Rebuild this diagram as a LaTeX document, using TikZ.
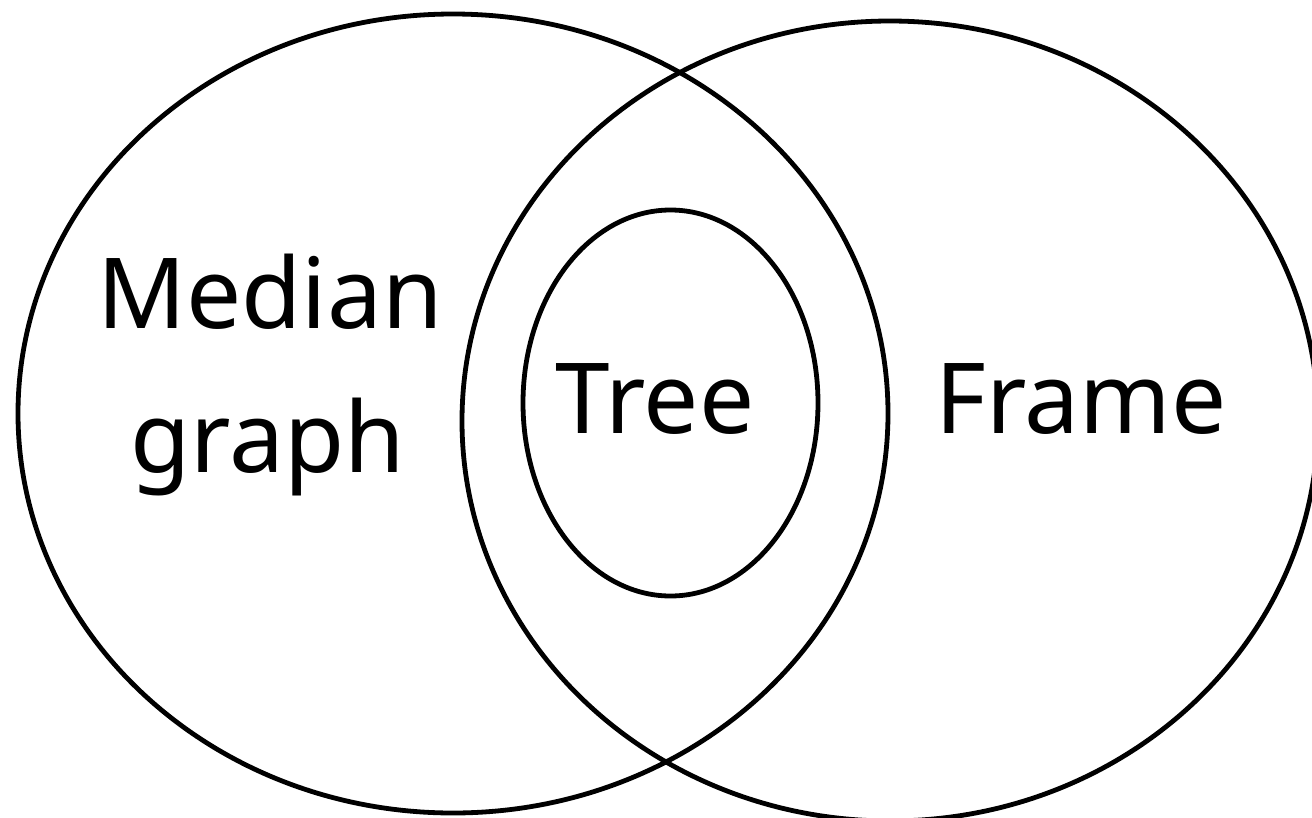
\documentclass[tikz,border=0pt]{standalone}
\usepackage{fontspec}
\setmainfont{Noto Sans}
\usepackage{tikz}
\usetikzlibrary{shapes.geometric,positioning}
\tikzstyle{setbox}=[
draw,
ellipse,
line width=4.8pt,
inner sep=0pt
]
\tikzstyle{settext}=[
anchor=base,
inner sep=0pt,
font=\fontsize{98}{144}\selectfont
]

\begin{document}
\begin{tikzpicture}[x=1pt,y=-1pt]
\useasboundingbox (0,0) rectangle (1312,817);

\node (median) [setbox, minimum width=870pt, minimum height=799pt] at (453,413.5) {};
\node (frame) [setbox, minimum width=856pt, minimum height=800pt] at (890,421) {};
\node (tree) [setbox, minimum width=295pt, minimum height=386pt] at (670.5,403) {};

\node (mediantext) [settext] at (270,328) {Median};
\node (graphtext) [settext] at (268,472) {graph};
\node (treetext) [settext] at (655,433) {Tree};
\node (frametext) [settext] at (1081,433) {Frame};

\end{tikzpicture}
\end{document}
